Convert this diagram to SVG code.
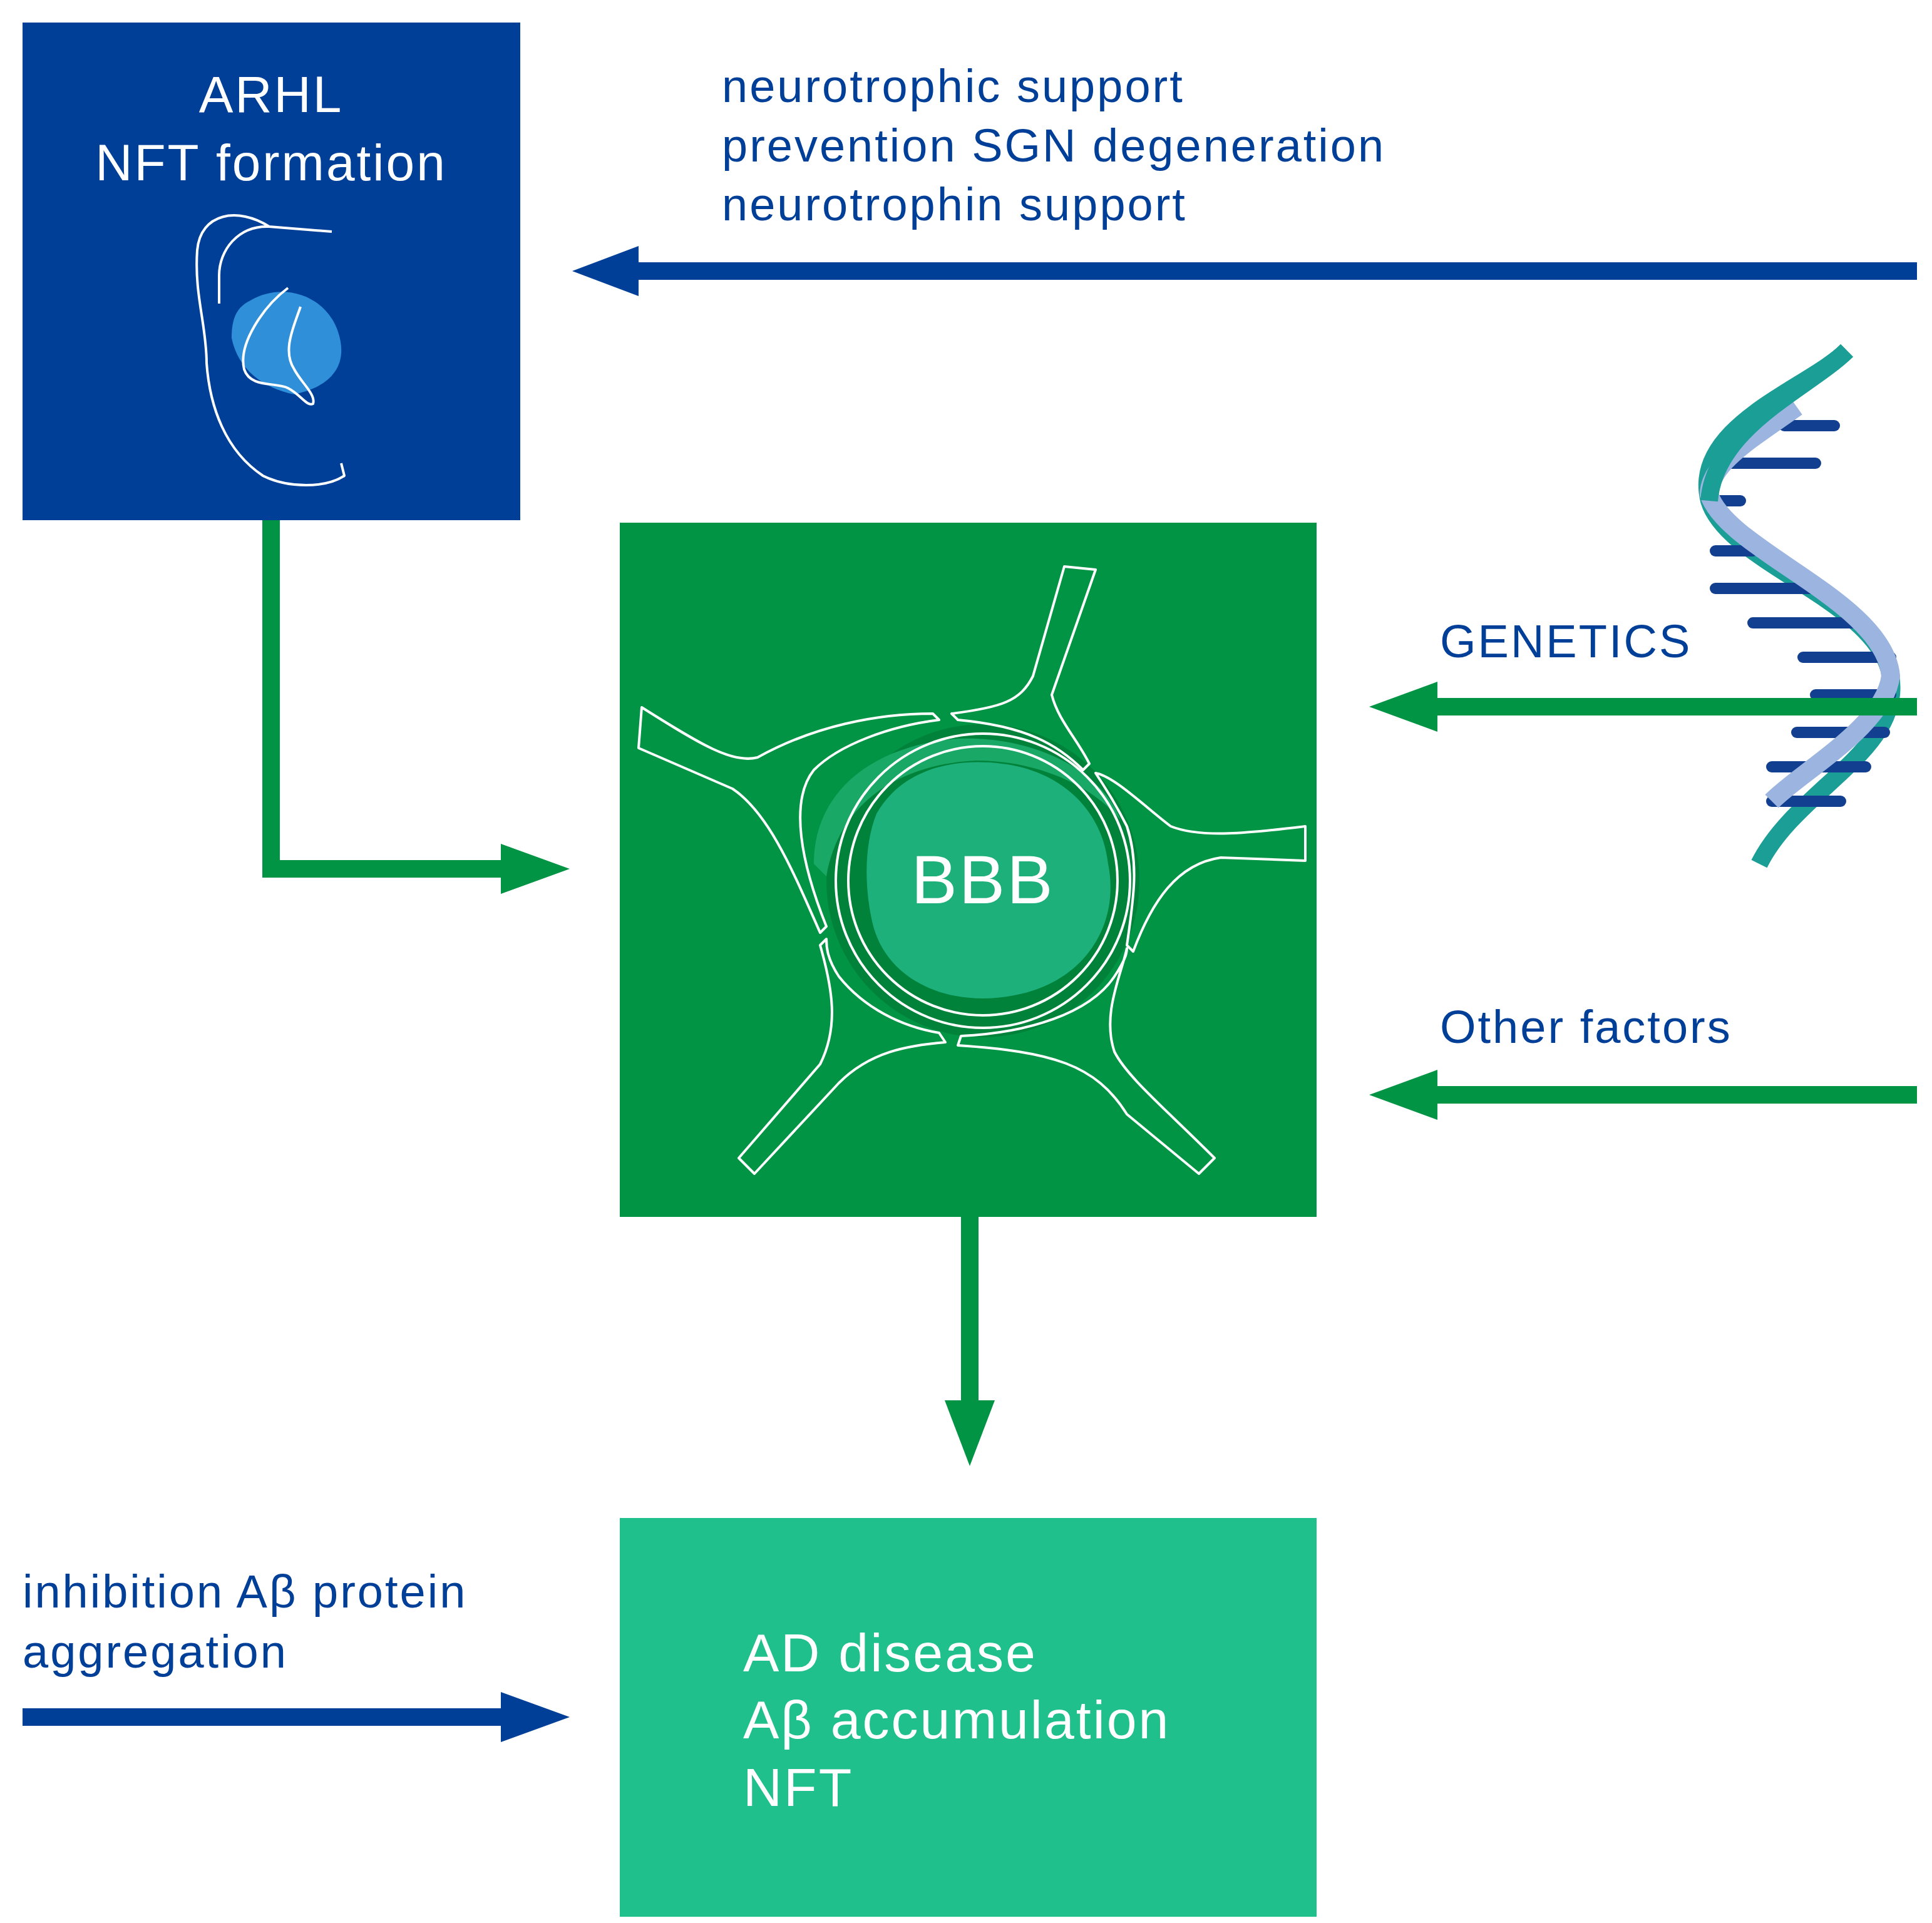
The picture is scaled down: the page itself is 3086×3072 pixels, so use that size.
<svg xmlns="http://www.w3.org/2000/svg" width="3086" height="3072" viewBox="0 0 3086 3072">
<style>
.t{font-family:"Liberation Sans","DejaVu Sans",sans-serif;letter-spacing:3px}
.blue{fill:#003f98}
.wl{fill:none;stroke:#fff;stroke-width:4;stroke-linejoin:round}
</style>
<rect width="3086" height="3072" fill="#fff"/>
<g id="arhl">
<rect x="36" y="36" width="795" height="795" fill="#003f98"/>
<text class="t" x="433" y="179" font-size="82" fill="#fff" text-anchor="middle">ARHL</text>
<text class="t" x="433" y="288" font-size="82" fill="#fff" text-anchor="middle">NFT formation</text>
<path d="M400 480 C450 450 520 470 540 530 C560 590 520 620 470 630 C420 620 380 590 370 540 C370 505 380 490 400 480Z" fill="#2f8fd8"/>
<path class="wl" d="M530 370 L430 362 C380 330 320 340 315 400 C310 470 330 520 330 580 C335 650 360 720 420 760 C460 780 520 780 550 760 L545 740"/>
<path class="wl" d="M430 362 C380 360 350 400 350 440 L350 485"/>
<path class="wl" d="M460 460 C420 490 380 550 390 590 C400 620 440 610 460 620 C480 630 490 650 500 645 C505 630 480 610 470 590 C450 560 470 520 480 490"/>
</g>
<g id="bbb">
<rect x="990" y="835" width="1113" height="1109" fill="#009444"/>
<circle cx="1570" cy="1407" r="250" fill="#00823a"/>
<path d="M1300 1380 C1300 1260 1400 1190 1530 1180 C1650 1175 1760 1230 1790 1310 C1740 1250 1650 1215 1560 1215 C1440 1220 1340 1280 1320 1400Z" fill="#1aa866"/>
<circle cx="1570" cy="1407" r="235" class="wl"/>
<circle cx="1570" cy="1407" r="215" class="wl"/>
<path d="M1400 1300 C1440 1230 1520 1210 1600 1220 C1690 1230 1760 1290 1770 1380 C1790 1480 1730 1570 1620 1590 C1520 1610 1420 1570 1395 1480 C1380 1420 1380 1350 1400 1300Z" fill="#1db07a"/>
<text class="t" x="1570" y="1443" font-size="110" fill="#fff" text-anchor="middle">BBB</text>
<path class="wl" d="M1700 905 L1750 910 L1680 1110 C1690 1150 1720 1180 1740 1220 L1730 1230 C1690 1190 1640 1160 1530 1150 L1520 1140 C1600 1130 1630 1120 1650 1080Z"/>
<path class="wl" d="M1025 1130 L1020 1195 L1170 1260 C1230 1300 1270 1400 1310 1490 L1320 1480 C1280 1380 1260 1280 1300 1230 C1340 1190 1420 1160 1500 1150 L1490 1140 C1400 1140 1300 1160 1210 1210 C1170 1220 1120 1190 1025 1130Z"/>
<path class="wl" d="M2085 1320 L2085 1375 L1950 1370 C1880 1380 1840 1440 1810 1520 L1800 1510 C1810 1440 1820 1380 1800 1320 C1780 1280 1760 1250 1750 1235 C1780 1240 1830 1290 1870 1320 C1920 1340 2000 1330 2085 1320Z"/>
<path class="wl" d="M1180 1850 L1205 1875 L1340 1730 C1390 1680 1450 1670 1510 1665 L1500 1650 C1440 1640 1380 1610 1340 1560 C1320 1530 1320 1510 1320 1500 L1310 1510 C1330 1580 1340 1640 1310 1700Z"/>
<path class="wl" d="M1940 1850 L1915 1875 L1800 1780 C1750 1700 1680 1680 1530 1670 L1535 1655 C1640 1650 1740 1620 1780 1560 C1800 1530 1800 1520 1800 1515 C1790 1560 1760 1620 1780 1680 C1800 1720 1860 1770 1940 1850Z"/>
</g>
<g id="ad">
<rect x="990" y="2425" width="1113" height="637" fill="#20c08c"/>
<text class="t" x="1187" y="2670" font-size="86" fill="#fff">AD disease</text>
<text class="t" x="1187" y="2777" font-size="86" fill="#fff">Aβ accumulation</text>
<text class="t" x="1187" y="2885" font-size="86" fill="#fff">NFT</text>
</g>
<g id="dna">
<path d="M2950 560 C2890 620 2700 680 2730 800 C2760 900 3000 960 3020 1080 C3040 1200 2870 1260 2810 1380" fill="none" stroke="#1a9e96" stroke-width="28"/>
<g stroke="#123f8f" stroke-width="18" stroke-linecap="round">
<line x1="2850" y1="680" x2="2930" y2="680"/><line x1="2745" y1="740" x2="2900" y2="740"/>
<line x1="2740" y1="800" x2="2780" y2="800"/><line x1="2740" y1="880" x2="2800" y2="880"/>
<line x1="2740" y1="940" x2="2900" y2="940"/><line x1="2800" y1="995" x2="2960" y2="995"/>
<line x1="2880" y1="1050" x2="3020" y2="1050"/><line x1="2900" y1="1110" x2="3020" y2="1110"/>
<line x1="2870" y1="1170" x2="3010" y2="1170"/><line x1="2830" y1="1225" x2="2980" y2="1225"/>
<line x1="2830" y1="1280" x2="2940" y2="1280"/>
</g>
<path d="M2870 650 C2800 700 2730 740 2730 790 C2760 880 3010 960 3020 1080 C3010 1160 2880 1230 2830 1280" fill="none" stroke="#9bb4e0" stroke-width="30"/>
<path d="M2950 560 C2890 620 2740 680 2730 800" fill="none" stroke="#1a9e96" stroke-width="28"/>
</g>
<g id="connectors">
<path d="M3062 419 H1014 V447 H3062Z" fill="#003f98"/>
<polygon points="914,433 1020,393 1020,473" fill="#003f98"/>
<path d="M419 831 V1402 H810 V1374 H447 V831Z" fill="#009444"/>
<polygon points="910,1388 800,1348 800,1428" fill="#009444"/>
<rect x="2290" y="1115" width="772" height="28" fill="#009444"/>
<polygon points="2187,1129 2296,1089 2296,1169" fill="#009444"/>
<rect x="2290" y="1735" width="772" height="28" fill="#009444"/>
<polygon points="2187,1749 2296,1709 2296,1789" fill="#009444"/>
<rect x="1535" y="1944" width="28" height="300" fill="#009444"/>
<polygon points="1549,2342 1509,2237 1589,2237" fill="#009444"/>
<rect x="36" y="2729" width="774" height="28" fill="#003f98"/>
<polygon points="910,2743 800,2703 800,2783" fill="#003f98"/>
</g>
<g id="labels" class="t blue" font-size="74">
<text x="1153" y="163">neurotrophic support</text>
<text x="1153" y="258">prevention SGN degeneration</text>
<text x="1153" y="352">neurotrophin support</text>
<text x="2300" y="1050">GENETICS</text>
<text x="2300" y="1666">Other factors</text>
<text x="36" y="2568">inhibition Aβ protein</text>
<text x="36" y="2664">aggregation</text>
</g>
</svg>
